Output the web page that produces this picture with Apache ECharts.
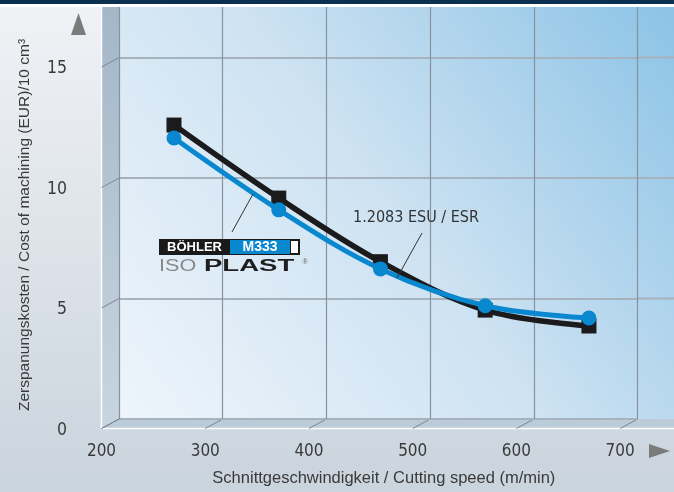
<!DOCTYPE html>
<html><head><meta charset="utf-8">
<script src="https://cdn.jsdelivr.net/npm/echarts@6/dist/echarts.min.js"></script>
<style>html,body{margin:0;padding:0;background:#fff}#c{width:674px;height:492px}</style>
</head><body><div id="c"></div>
<script>
// ---- data ----
const xTicks = [200, 300, 400, 500, 600, 700];
const yTicks = [0, 5, 10, 15];
const speed = [253, 354, 452, 553, 653];
const esuCost = [12.2, 9.17, 6.53, 4.52, 3.86];
const m333Cost = [11.66, 8.68, 6.23, 4.70, 4.19];
const seriesNames = ['1.2083 ESU / ESR', 'BÖHLER M333 ISOPLAST'];
const xTitle = 'Schnittgeschwindigkeit / Cutting speed (m/min)';
const yTitle = 'Zerspanungskosten / Cost of machining (EUR)/10 cm³';

const FONT = '"Liberation Sans", Arial, sans-serif';
const NARROW = '"Liberation Sans Narrow", "DejaVu Sans Condensed", "Liberation Sans", sans-serif';
const BLACK = '#1b1a1c', BLUE = '#0a88cf';
const HGRID = '#a6b2bd';
const chart = echarts.init(document.getElementById('c'));
const LG = echarts.graphic.LinearGradient;

const option = {
  animation: false,
  grid: {left: 119, top: 7, right: 36.3, bottom: 73, show: false},
  xAxis: {
    type: 'value', min: 200, max: 700, interval: 100,
    axisLine: {show: false}, axisTick: {show: false},
    splitLine: {show: true, lineStyle: {color: '#86929d', width: 1.2}},
    axisLabel: {
      color: '#3a3a3a', fontSize: 17, fontFamily: NARROW, margin: 24, padding: [0, 35, 0, 0],
      formatter: v => xTicks.includes(v) ? String(v) : ''
    },
    name: xTitle, nameLocation: 'middle', nameGap: 51,
    nameTextStyle: {color: '#3a3a3a', fontSize: 16.5, fontFamily: FONT, padding: [0, 0, 0, 11]}
  },
  yAxis: {
    type: 'value', min: 0, max: 17.1, interval: 5,
    axisLine: {show: false}, axisTick: {show: false},
    splitLine: {show: true, showMaxLine: false, lineStyle: {color: HGRID, width: 2}},
    axisLabel: {
      color: '#3a3a3a', fontSize: 17.5, fontFamily: NARROW, margin: 52, verticalAlign: 'top', lineHeight: 22,
      formatter: v => yTicks.includes(v) ? String(v) : ''
    },
    name: yTitle, nameLocation: 'middle', nameGap: 86,
    nameTextStyle: {color: '#3a3a3a', fontSize: 15.5, fontFamily: FONT, padding: [0, 24, 0, 0]}
  },
  series: [
    {
      type: 'line', name: seriesNames[0], data: speed.map((x, i) => [x, esuCost[i]]),
      smooth: 0.35, symbol: 'rect', symbolSize: 15, z: 3,
      lineStyle: {color: BLACK, width: 5.5}, itemStyle: {color: BLACK}
    },
    {
      type: 'line', name: seriesNames[1], data: speed.map((x, i) => [x, m333Cost[i]]),
      smooth: 0.35, symbol: 'circle', symbolSize: 15, z: 4,
      lineStyle: {color: BLUE, width: 5}, itemStyle: {color: BLUE}
    }
  ]
};
chart.setOption(option);

// ---- decoration (3D wall / floor, panel, arrows, annotations) ----
const px = (x, y) => chart.convertToPixel({gridIndex: 0}, [x, y]);
const p0 = px(200, 0);
const pEnd = px(700, 0);
const DX = 17.5, DY = 9.5, TOP = 7, RIGHT = 674;
const gfx = [];
gfx.push({type: 'rect', z: -20, shape: {x: 0, y: 0, width: 674, height: 492},
  style: {fill: new LG(0, 0, 0, 1, [{offset: 0, color: '#f0f2f5'}, {offset: 1, color: '#cad4dd'}])}});
gfx.push({type: 'rect', z: -19, shape: {x: 0, y: 0, width: 674, height: 4}, style: {fill: '#0b2f4e'}});
gfx.push({type: 'rect', z: -19, shape: {x: 0, y: 4, width: 674, height: 3}, style: {fill: '#ffffff'}});
// back panel
gfx.push({type: 'rect', z: -19, shape: {x: p0[0], y: TOP, width: RIGHT - p0[0], height: p0[1] - TOP},
  style: {fill: new LG(0, 1, 1, 0, [{offset: 0, color: '#eef5fb'}, {offset: 0.5, color: '#cde2f2'}, {offset: 1, color: '#8cc3e6'}])}});
// horizontal gridline extensions beyond 700
yTicks.filter(v => v > 0).forEach(v => { const p = px(700, v);
  gfx.push({type: 'line', z: -18, shape: {x1: p[0], y1: p[1], x2: RIGHT, y2: p[1]}, style: {stroke: HGRID, lineWidth: 2}}); });
// left wall
gfx.push({type: 'polygon', z: -18, shape: {points: [[p0[0] - DX, TOP], [p0[0], TOP], [p0[0], p0[1]], [p0[0] - DX, p0[1] + DY]]},
  style: {fill: new LG(0, 0, 0, 1, [{offset: 0, color: '#a3b7c7'}, {offset: 1, color: '#c8d5df'}])}});
// floor
gfx.push({type: 'polygon', z: -18, shape: {points: [[p0[0], p0[1]], [RIGHT, p0[1]], [RIGHT, p0[1] + DY], [p0[0] - DX, p0[1] + DY]]},
  style: {fill: '#bccbd8'}});
gfx.push({type: 'polyline', z: -17, shape: {points: [[p0[0] - DX, TOP], [p0[0] - DX, p0[1] + DY], [RIGHT, p0[1] + DY]]},
  style: {stroke: '#ffffff', lineWidth: 1.5, fill: null}});
yTicks.forEach(v => { const p = px(200, v);
  gfx.push({type: 'line', z: -17, shape: {x1: p[0] - DX, y1: p[1] + DY, x2: p[0], y2: p[1]}, style: {stroke: '#7a8793', lineWidth: 1}}); });
xTicks.forEach(v => { const p = px(v, 0);
  gfx.push({type: 'line', z: -17, shape: {x1: p[0] - DX, y1: p[1] + DY, x2: p[0], y2: p[1]}, style: {stroke: '#7a8793', lineWidth: 1}}); });
// axis arrows
gfx.push({type: 'polygon', z: 5, shape: {points: [[71, 35], [86, 35], [78.5, 13]]}, style: {fill: '#7b7b7b'}});
gfx.push({type: 'polygon', z: 5, shape: {points: [[649, 444], [649, 458], [670, 451]]}, style: {fill: '#7b7b7b'}});
// ESU annotation
gfx.push({type: 'line', z: 10, shape: {x1: 422, y1: 233, x2: 397, y2: 278}, style: {stroke: '#333', lineWidth: 1}});
gfx.push({type: 'text', z: 10, x: 416, y: 218, style: {text: seriesNames[0], fontSize: 16, fontFamily: NARROW,
  fill: '#333', align: 'center', verticalAlign: 'middle'}});
// M333 ISOPLAST logo
gfx.push({type: 'line', z: 10, shape: {x1: 232, y1: 232, x2: 253, y2: 194}, style: {stroke: '#333', lineWidth: 1}});
gfx.push({type: 'rect', z: 10, shape: {x: 159, y: 239, width: 141, height: 16}, style: {fill: '#1a1a1a'}});
gfx.push({type: 'rect', z: 11, shape: {x: 230, y: 240, width: 60, height: 14}, style: {fill: BLUE}});
gfx.push({type: 'rect', z: 11, shape: {x: 291, y: 241, width: 7, height: 12}, style: {fill: '#ffffff'}});
gfx.push({type: 'text', z: 12, x: 194.5, y: 247.5, style: {text: 'BÖHLER', fontSize: 13, fontWeight: 'bold', fontFamily: FONT,
  fill: '#ffffff', align: 'center', verticalAlign: 'middle'}});
gfx.push({type: 'text', z: 12, x: 260, y: 247.5, style: {text: 'M333', fontSize: 14, fontWeight: 'bold', fontFamily: FONT,
  fill: '#ffffff', align: 'center', verticalAlign: 'middle'}});
gfx.push({type: 'text', z: 12, x: 159, y: 266.5, scaleX: 1.35, style: {text: 'ISO', fontSize: 16, fontFamily: FONT,
  fill: '#8a8a8a', align: 'left', verticalAlign: 'middle'}});
gfx.push({type: 'text', z: 12, x: 204, y: 266.5, scaleX: 1.72, style: {text: 'PLAST', fontSize: 16, fontWeight: 'bold', fontFamily: FONT,
  fill: '#1e1e1e', align: 'left', verticalAlign: 'middle'}});
gfx.push({type: 'text', z: 12, x: 305, y: 262, style: {text: '®', fontSize: 7, fontFamily: FONT,
  fill: '#666', align: 'center', verticalAlign: 'middle'}});
chart.setOption({graphic: gfx});
</script></body></html>
